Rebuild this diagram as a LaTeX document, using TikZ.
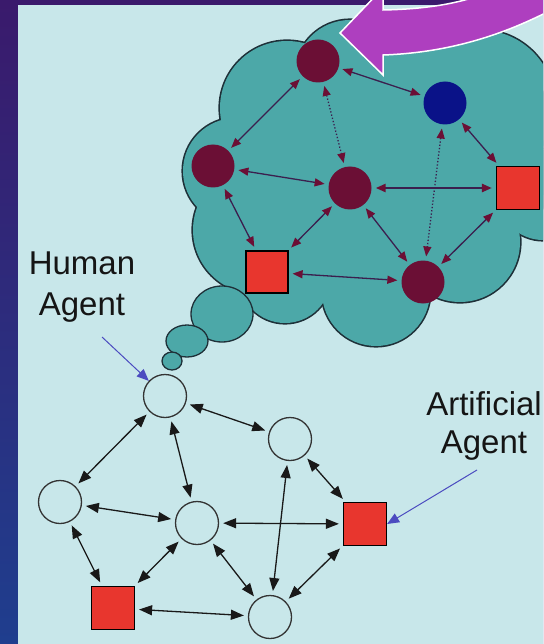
\documentclass[tikz,border=0pt]{standalone}
\usepackage{fontspec}
\setmainfont{Liberation Sans}
\usetikzlibrary{arrows.meta}
\definecolor{bgtop}{HTML}{3A1A6C}
\definecolor{bgbot}{HTML}{1F3E8E}
\definecolor{panel}{HTML}{C8E7EA}
\definecolor{cloudfill}{HTML}{4CA8A8}
\definecolor{cloudline}{HTML}{1E3038}
\definecolor{mred}{HTML}{6B0F35}
\definecolor{navy}{HTML}{0A1288}
\definecolor{sqred}{HTML}{E8362E}
\definecolor{cline}{HTML}{3B1F4E}
\definecolor{purp}{HTML}{AE3FBF}
\definecolor{ptrblue}{HTML}{4B4BC0}
\definecolor{txt}{HTML}{151515}
\begin{document}
\begin{tikzpicture}[x=1pt,y=-1pt,
 cn/.style={circle,fill=mred,minimum size=43pt,inner sep=0pt},
 bn/.style={circle,fill=navy,minimum size=43pt,inner sep=0pt},
 sq/.style={rectangle,fill=sqred,draw=black,line width=1.2pt,minimum size=42pt,inner sep=0pt},
 hn/.style={circle,draw=black!80,line width=1.3pt,minimum size=43pt,inner sep=0pt},
 ce/.style={draw=cline,line width=1.3pt,arrows={Triangle[length=10pt,width=8pt,color=mred]-Triangle[length=10pt,width=8pt,color=mred]},shorten <=4pt,shorten >=4pt},
 be/.style={draw=black!90,line width=1.3pt,arrows={Triangle[length=13pt,width=10pt]-Triangle[length=13pt,width=10pt]},shorten <=4pt,shorten >=4pt},
 ptr/.style={draw=ptrblue,line width=1pt,arrows={-Triangle[length=12pt,width=10pt]}},
 lbl/.style={text=txt,align=center,inner sep=0pt,anchor=north},
 bubble/.style={fill=cloudfill,draw=cloudline,line width=1.3pt},
]
\useasboundingbox (0,0) rectangle (543,644);
\begin{scope}
\clip (0,0) rectangle (543,644);
\shade[top color=bgtop,bottom color=bgbot] (0,0) rectangle (543,644);
\fill[panel] (18,5) rectangle (543,644);
% cloud: outline then fill
\foreach \cx/\cy/\r in {287/108/67,350/75/55,420/80/50,480/105/75,560/150/60,236/171/53,257/230/64,285/277/46,376/292/54,460/242/60,543/195/45}
  \fill[cloudline] (\cx,\cy) circle[radius={(\r+1.6)*1pt}];
\foreach \cx/\cy/\r in {287/108/67,350/75/55,420/80/50,480/105/75,560/150/60,236/171/53,257/230/64,285/277/46,376/292/54,460/242/60,543/195/45}
  \fill[cloudfill] (\cx,\cy) circle[radius={\r*1pt}];
\fill[cloudfill] (287,108) -- (350,75) -- (420,80) -- (480,105) -- (560,150) -- (543,195) -- (460,242) -- (376,292) -- (285,277) -- (257,230) -- (236,171) -- cycle;
% thought bubbles
\draw[bubble] (222,314) ellipse[x radius=31pt,y radius=28pt];
\draw[bubble] (187,341) ellipse[x radius=21pt,y radius=16pt];
\draw[bubble] (172,361) ellipse[x radius=10pt,y radius=9pt];
% purple arrow
\draw[fill=purp,draw=white,line width=1.5pt,line join=miter] (340,33) -- (383,-12) -- (383,10) .. controls (430,9) and (460,3) .. (490,-8) -- (570,-8) -- (570,0) .. controls (530,22) and (470,52) .. (383,55) -- (383,75) -- cycle;
\end{scope}
% cloud network
\node[cn] (A) at (318,61) {};
\node[bn] (B) at (445,103) {};
\node[cn] (C) at (213,166) {};
\node[cn] (D) at (350,188) {};
\node[sq,minimum size=43pt] (E) at (518,188) {};
\node[sq] (F) at (267,272) {};
\node[cn] (G) at (423,282) {};
\draw[ce] (A) -- (C);
\draw[ce] (A) -- (B);
\draw[ce,dotted] (A) -- (D);
\draw[ce,dotted] (B) -- (G);
\draw[ce] (B) -- (E);
\draw[ce] (C) -- (D);
\draw[ce,line width=2.4pt] (D) -- (E);
\draw[ce] (C) -- (F);
\draw[ce] (D) -- (F);
\draw[ce] (D) -- (G);
\draw[ce] (F) -- (G);
\draw[ce] (E) -- (G);
% bottom network
\node[hn] (h1) at (165,396) {};
\node[hn] (h2) at (290,439) {};
\node[hn] (h3) at (60,502) {};
\node[hn] (h4) at (197,523) {};
\node[sq,minimum size=43pt] (s1) at (365,524) {};
\node[sq,minimum size=43pt] (s2) at (113,608) {};
\node[hn] (h5) at (270,617) {};
\draw[be] (h1) -- (h2);
\draw[be] (h1) -- (h3);
\draw[be] (h1) -- (h4);
\draw[be] (h3) -- (h4);
\draw[be] (h4) -- (s1);
\draw[be] (h2) -- (h5);
\draw[be] (h2) -- (s1);
\draw[be] (h3) -- (s2);
\draw[be] (h4) -- (s2);
\draw[be] (h4) -- (h5);
\draw[be] (s2) -- (h5);
\draw[be] (s1) -- (h5);
% labels
\node[lbl,font=\fontsize{33}{41}\selectfont] (human) at (82,252) {Human\\Agent};
\node[lbl,font=\fontsize{33}{38}\selectfont] (artif) at (484,391) {Artificial\\Agent};
\coordinate (hp) at (102,337);
\coordinate (ap) at (477,470);
\draw[ptr] (hp) -- (h1);
\draw[ptr] (ap) -- (s1.east);
\end{tikzpicture}
\end{document}
